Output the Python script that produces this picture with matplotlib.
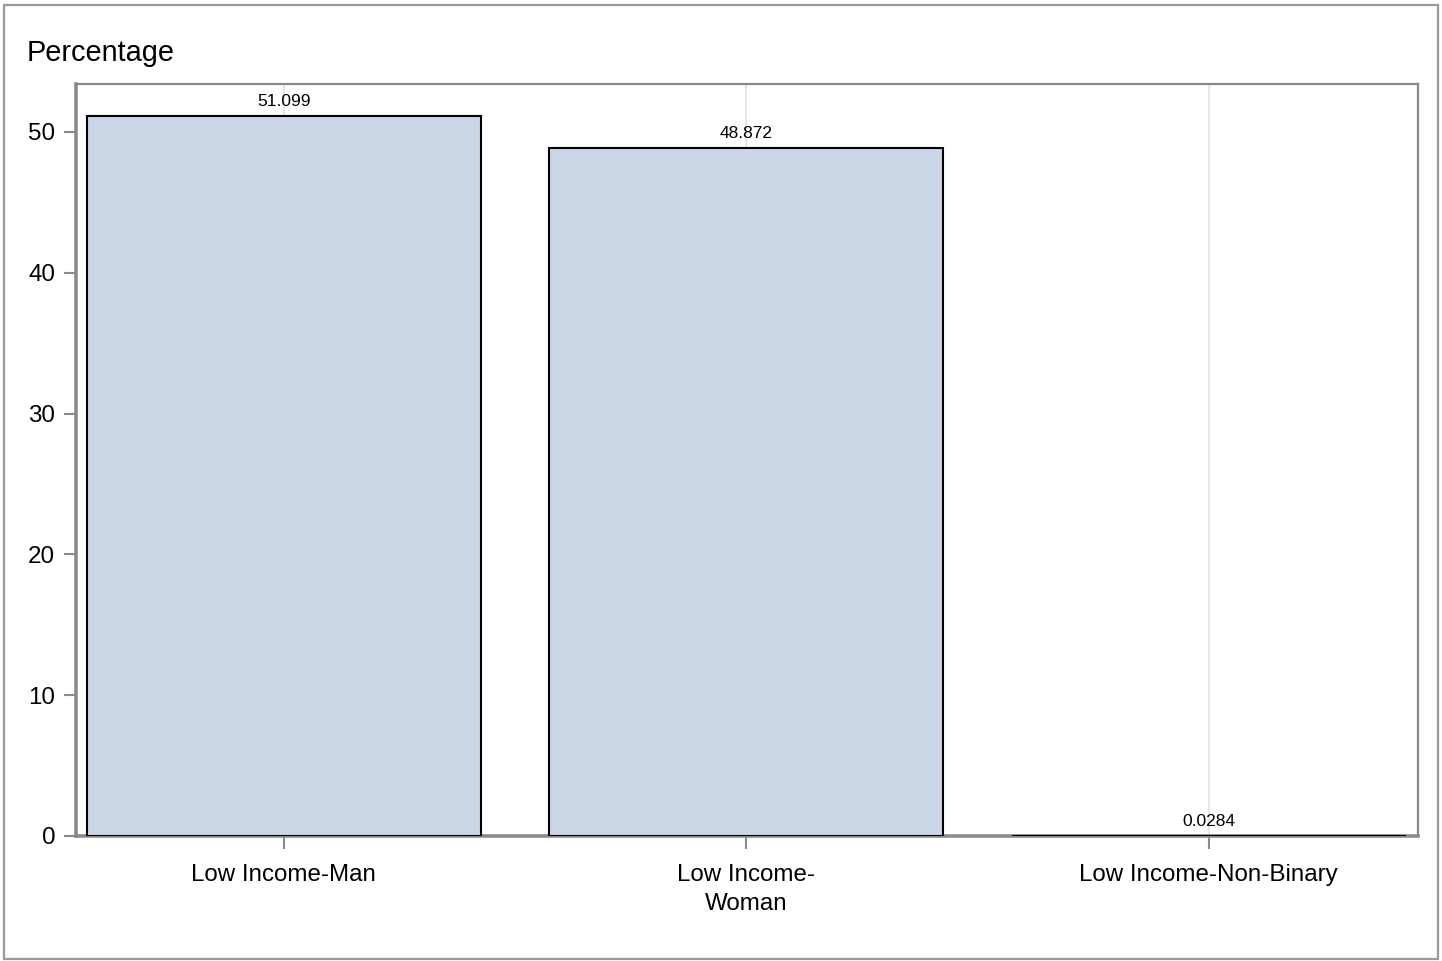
import matplotlib
matplotlib.use("Agg")
import matplotlib.pyplot as plt
from matplotlib.patches import Rectangle

plt.rcParams["font.family"] = ["Liberation Sans", "DejaVu Sans"]

# ── data ─────────────────────────────────────────────────────────────────────
categories = ["Low Income-Man", "Low Income-\nWoman", "Low Income-Non-Binary"]
percent    = [51.099, 48.872, 0.0284]
bar_labels = ["51.099", "48.872", "0.0284"]
yticks     = [0, 10, 20, 30, 40, 50]

FILL  = "#CAD5E5"
AXIS  = "#8a8a8a"
GRID  = "#e6e6e6"

fig = plt.figure(figsize=(14.42, 9.61), dpi=100)
ax = fig.add_axes([0.0527, 0.1301, 0.9307, 0.7825])

x = list(range(len(categories)))
bars = ax.bar(x, percent, width=0.852, color=FILL, edgecolor="black",
              linewidth=1.5, zorder=3)
ax.bar_label(bars, labels=bar_labels, padding=5, fontsize=12.5, zorder=4)

ax.set_xlim(-0.449, 2.453)
ax.set_ylim(0, 53.4)
ax.set_xticks(x)
ax.set_xticklabels(categories, fontsize=17.4, linespacing=1.45)
ax.set_yticks(yticks)
ax.tick_params(axis="y", labelsize=17.4, length=9, width=1.5, color=AXIS, pad=6)
ax.tick_params(axis="x", length=9, width=1.5, color=AXIS, pad=11)

ax.grid(axis="x", color=GRID, lw=1.5, zorder=0)
ax.set_axisbelow(True)

for side in ["left", "bottom"]:
    ax.spines[side].set_color(AXIS)
    ax.spines[side].set_linewidth(2.6)
    ax.spines[side].set_zorder(2.5)
for side in ["top", "right"]:
    ax.spines[side].set_color(AXIS)
    ax.spines[side].set_linewidth(1.6)

fig.text(27 / 1442, 1 - 61 / 961, "Percentage", fontsize=20.8, va="baseline", ha="left")

# outer frame of the graph
fig.patches.append(Rectangle((0.0025, 0.002), 0.995, 0.993, transform=fig.transFigure,
                             fill=False, edgecolor="#9a9a9a", linewidth=1.6))

fig.savefig("out.png", dpi=100)
